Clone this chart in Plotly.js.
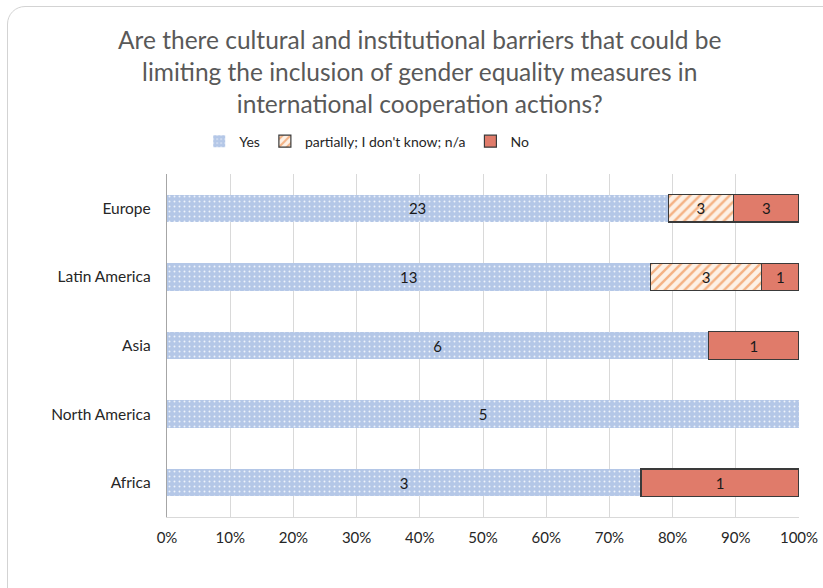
<!DOCTYPE html>
<html>
<head>
<meta charset="utf-8">
<script src="https://cdn.plot.ly/plotly-3.0.1.min.js"></script>
<style>
  html, body { margin: 0; padding: 0; background: #ffffff; overflow: hidden; width: 823px; height: 588px; }
  #wrap { position: relative; width: 823px; height: 588px; overflow: hidden; }
  #chart { width: 823px; height: 588px; }
  #frame { position: absolute; left: 7px; top: 6px; width: 1200px; height: 620px;
           border: 1.5px solid #d3d3d3; border-radius: 18px; pointer-events: none; box-sizing: border-box; }
</style>
</head>
<body>
<div id="wrap">
<div id="chart"></div>
<div id="frame"></div>
</div>
<script>
const regions = ["Europe", "Latin America", "Asia", "North America", "Africa"];
const yesCounts = [23, 13, 6, 5, 3];
const partialCounts = [3, 3, 0, 0, 0];
const noCounts = [3, 1, 1, 0, 1];
const seriesNames = ["Yes", "partially; I don't know; n/a", "No"];
const xTickVals = [0, 10, 20, 30, 40, 50, 60, 70, 80, 90, 100];
const xTickText = ["0%", "10%", "20%", "30%", "40%", "50%", "60%", "70%", "80%", "90%", "100%"];

const labelText = arr => arr.map(v => v > 0 ? String(v) : "");
const borderWidths = arr => arr.map(v => v > 0 ? 1.2 : 0);
const font = "Lato, 'Open Sans', sans-serif";

const traces = [
  {
    type: "bar", orientation: "h", name: seriesNames[0],
    y: regions, x: yesCounts, text: labelText(yesCounts),
    textposition: "inside", insidetextanchor: "middle",
    textfont: {color: "#1a1a1a", size: 15, family: font},
    marker: {color: "#b4c7e7", line: {width: 0},
      pattern: {shape: ".", bgcolor: "#b4c7e7", fgcolor: "#eef3fb", size: 5, solidity: 0.12}},
    hoverinfo: "skip"
  },
  {
    type: "bar", orientation: "h", name: seriesNames[1],
    y: regions, x: partialCounts, text: labelText(partialCounts),
    textposition: "inside", insidetextanchor: "middle",
    textfont: {color: "#1a1a1a", size: 15, family: font},
    marker: {color: "#fbe5d6", line: {width: borderWidths(partialCounts), color: "#3a3a3a"},
      pattern: {shape: "/", bgcolor: "#fdf1e6", fgcolor: "#f4b183", size: 7, solidity: 0.35}},
    hoverinfo: "skip"
  },
  {
    type: "bar", orientation: "h", name: seriesNames[2],
    y: regions, x: noCounts, text: labelText(noCounts),
    textposition: "inside", insidetextanchor: "middle",
    textfont: {color: "#1a1a1a", size: 15, family: font},
    marker: {color: "#e07b6a", line: {width: borderWidths(noCounts), color: "#3a3a3a"}},
    hoverinfo: "skip"
  }
];

const layout = {
  width: 823, height: 588,
  paper_bgcolor: "#ffffff", plot_bgcolor: "#ffffff",
  barmode: "stack", barnorm: "percent", bargap: 0.6,
  margin: {l: 167, r: 24, t: 174, b: 71},
  font: {family: font, color: "#262626", size: 14},
  title: {
    text: "Are there cultural and institutional barriers that could be<br>limiting the inclusion of gender equality measures in<br>international cooperation actions?",
    font: {family: font, size: 24.5, color: "#595959"},
    x: 0.51, xanchor: "center", xref: "container",
    y: 0.917, yanchor: "top", yref: "container"
  },
  legend: {
    orientation: "h", x: 0.316, xanchor: "center", y: 1.048, yanchor: "bottom",
    font: {family: font, size: 14, color: "#262626"}, traceorder: "normal",
    itemwidth: 30
  },
  xaxis: {
    range: [0, 100], tickvals: xTickVals, ticktext: xTickText,
    showgrid: true, gridcolor: "#d9d9d9", gridwidth: 1,
    showline: true, linecolor: "#d9d9d9", linewidth: 1,
    zeroline: false, ticks: "", fixedrange: true, ticklabelstandoff: 7,
    tickfont: {family: font, size: 15, color: "#262626"}
  },
  yaxis: {
    type: "category", categoryorder: "array", categoryarray: regions,
    autorange: "reversed", showgrid: false,
    showline: true, linecolor: "#a6a6a6", linewidth: 1.2,
    ticks: "", ticklabelstandoff: 12, fixedrange: true,
    tickfont: {family: font, size: 15.5, color: "#262626"}
  }
};

Plotly.newPlot("chart", traces, layout, {displayModeBar: false, staticPlot: true});
</script>
</body>
</html>
